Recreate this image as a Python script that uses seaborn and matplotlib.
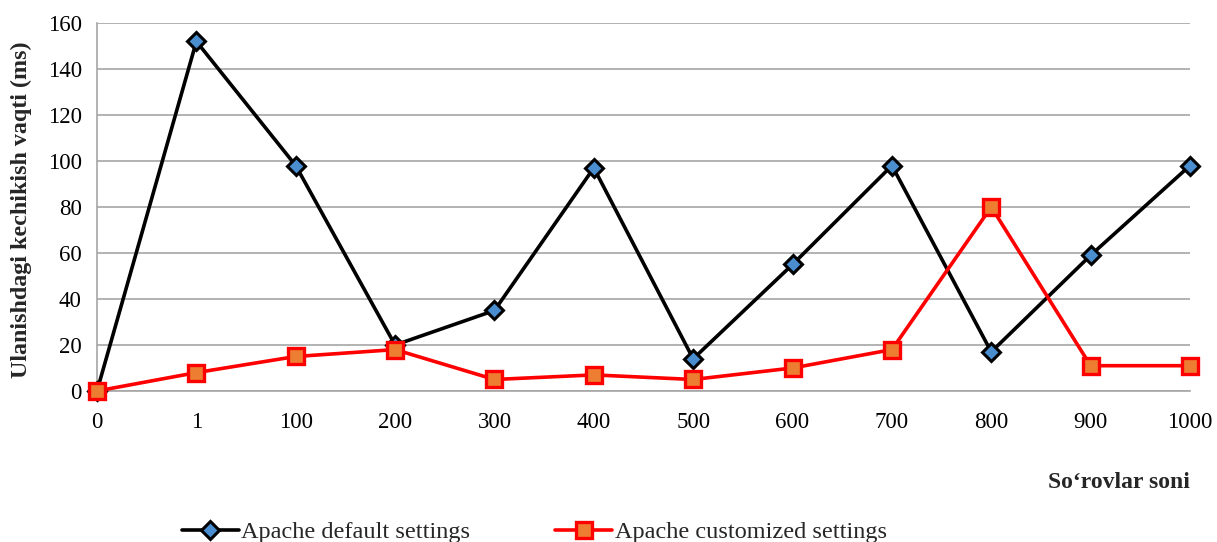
import matplotlib
matplotlib.use("Agg")
import matplotlib.pyplot as plt
import seaborn as sns
import pandas as pd
from matplotlib.lines import Line2D

# Request counts (categorical x axis) and connection latency in ms
requests = ["0", "1", "100", "200", "300", "400", "500", "600", "700", "800", "900", "1000"]
default_ms = [0, 152, 98, 20, 35, 97, 14, 55, 98, 17, 59, 98]
custom_ms = [0, 8, 15, 18, 5, 7, 5, 10, 18, 80, 11, 11]

series_default = "Apache default settings"
series_custom = "Apache customized settings"

df = pd.DataFrame({
    "pos": list(range(len(requests))) * 2,
    "ms": default_ms + custom_ms,
    "series": [series_default] * len(requests) + [series_custom] * len(requests),
})

sns.set_theme(style="white")
plt.rcParams["font.family"] = ["Liberation Serif", "DejaVu Serif"]

fig = plt.figure(figsize=(12.17, 5.42), dpi=100)
ax = fig.add_axes([0.0797, 0.2786, 0.9778 - 0.0797, 0.9576 - 0.2786])

styles = {
    series_default: dict(color="black", marker="D", mfc="#4a8ed0", mec="black",
                         ms=9, mew=2.2, lw=2.6),
    series_custom: dict(color="#ff0000", marker="s", mfc="#ed7d31", mec="#ff0000",
                        ms=11, mew=2.4, lw=2.6),
}

for name in [series_default, series_custom]:
    st = styles[name]
    sns.lineplot(data=df[df["series"] == name], x="pos", y="ms", ax=ax,
                 color=st["color"], lw=st["lw"], marker=st["marker"],
                 markersize=st["ms"], markerfacecolor=st["mfc"],
                 markeredgecolor=st["mec"], markeredgewidth=st["mew"],
                 legend=False, zorder=3, clip_on=False)

ax.set_xlim(0, len(requests) - 1)
ax.set_ylim(0, 160)
ax.set_yticks(range(0, 161, 20))
ax.set_xticks(range(len(requests)))
ax.set_xticklabels(requests)
ax.tick_params(axis="both", labelsize=16.5, length=0, colors="black")
ax.tick_params(axis="x", pad=15)
ax.tick_params(axis="y", pad=11)

ax.grid(axis="y", color="#a6a6a6", lw=1.2)
ax.set_axisbelow(True)
for side in ["top", "right"]:
    ax.spines[side].set_visible(False)
for side in ["left", "bottom"]:
    ax.spines[side].set_color("#a6a6a6")
    ax.spines[side].set_linewidth(1.2)

ax.set_xlabel("")
ax.set_ylabel("")
fig.text(21 / 1217, 1 - 210 / 542, "Ulanishdagi kechikish vaqti (ms)",
         rotation=90, ha="center", va="center", fontsize=17.3, fontweight="bold")
fig.text(0.9778, 1 - 482 / 542, "So‘rovlar soni", ha="right", va="center",
         fontsize=17, fontweight="bold")

handles = [
    Line2D([], [], color="black", lw=2.6, marker="D", ms=9, mfc="#4a8ed0",
           mec="black", mew=2.2),
    Line2D([], [], color="#ff0000", lw=2.6, marker="s", ms=11, mfc="#ed7d31",
           mec="#ff0000", mew=2.4),
]
fig.legend(handles, [series_default, series_custom], loc="center",
           bbox_to_anchor=(0.439, 1 - 532 / 542), ncol=2, frameon=False,
           fontsize=17.5, handlelength=2.35, handletextpad=0.1, columnspacing=3.5)

fig.savefig("out.png", dpi=100)
